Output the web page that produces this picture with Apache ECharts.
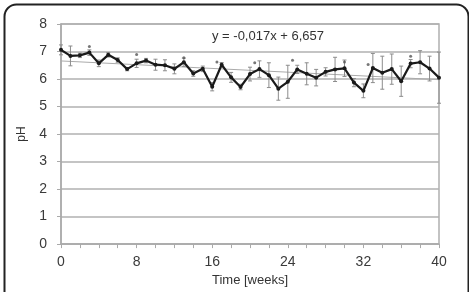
<!DOCTYPE html>
<html><head><meta charset="utf-8">
<script src="https://cdn.jsdelivr.net/npm/echarts@6/dist/echarts.min.js"></script>
<style>html,body{margin:0;padding:0;background:#fff}#c{width:469px;height:292px}</style>
</head><body><div id="c"></div>
<script>
const weeks = [0,1,2,3,4,5,6,7,8,9,10,11,12,13,14,15,16,17,18,19,20,21,22,23,24,25,26,27,28,29,30,31,32,33,34,35,36,37,38,39,40];
const phMean = [7.06,6.84,6.86,6.96,6.57,6.88,6.69,6.36,6.57,6.67,6.52,6.50,6.37,6.61,6.20,6.37,5.72,6.52,6.06,5.71,6.18,6.36,6.14,5.65,5.90,6.35,6.19,6.05,6.26,6.35,6.39,5.87,5.57,6.40,6.23,6.36,5.92,6.56,6.61,6.38,6.05];
const phErr = [0.18,0.36,0.08,0.1,0.12,0.08,0.08,0.06,0.15,0.08,0.2,0.2,0.18,0.15,0.1,0.1,0.15,0.08,0.18,0.1,0.25,0.3,0.45,0.42,0.6,0.15,0.4,0.3,0.15,0.44,0.3,0.15,0.25,0.53,0.6,0.55,0.55,0.15,0.42,0.45,0.93];
const starX = [3,8,13,16.5,20.5,24.5,30,32.5,37];
const starY = [7.18,6.89,6.77,6.62,6.59,6.68,6.62,6.53,6.83];
const trendX = [0,40];
const trendSlope = -0.017, trendIntercept = 6.657;
const xTicks = [0,8,16,24,32,40];
const yTicks = [0,1,2,3,4,5,6,7,8];

const chart = echarts.init(document.getElementById('c'), null, {renderer:'canvas'});
const ff = '"Liberation Sans", Arial, sans-serif';
chart.setOption({
  animation:false,
  grid:{left:61,right:30,top:24,bottom:40,show:true,borderColor:'#b0b0b0',borderWidth:1.5},
  graphic:[
    {type:'rect',left:2,top:2,shape:{width:464,height:320,r:12},style:{fill:'none',stroke:'#222',lineWidth:2},z:100},
    {type:'text',x:268,y:30,style:{text:'y = -0,017x + 6,657',font:'13px '+ff,fill:'#333',textAlign:'center'}}
  ],
  xAxis:{type:'value',min:0,max:40,interval:8,name:'Time [weeks]',nameLocation:'middle',nameGap:28,
    nameTextStyle:{fontFamily:ff,fontSize:13,color:'#333'},
    axisLine:{lineStyle:{color:'#aaa',width:1.5}},
    axisTick:{show:true,length:4,lineStyle:{color:'#aaa'}},
    minorTick:{show:true,splitNumber:4,length:4,lineStyle:{color:'#aaa'}},
    splitLine:{show:false},
    axisLabel:{margin:11,fontFamily:ff,fontSize:14,color:'#3a3a3a'}},
  yAxis:{type:'value',min:0,max:8,interval:1,name:'pH',nameLocation:'middle',nameGap:33,
    nameTextStyle:{fontFamily:ff,fontSize:12,color:'#333'},
    axisLine:{show:true,lineStyle:{color:'#aaa',width:1.5}},
    axisTick:{show:true,length:4,lineStyle:{color:'#aaa'}},
    splitLine:{show:true,lineStyle:{color:'#b0b0b0',width:1.5}},
    axisLabel:{margin:14,fontFamily:ff,fontSize:14,color:'#3a3a3a'}},
  series:[
    {type:'line',data:trendX.map(x=>[x,trendIntercept+trendSlope*x]),symbol:'none',
      lineStyle:{color:'#aaa',width:1},z:1},
    {type:'custom',z:2,data:weeks.map((w,i)=>[w,phMean[i]-phErr[i],phMean[i]+phErr[i]]),
      renderItem:function(params,api){
        const lo=api.coord([api.value(0),api.value(1)]);
        const hi=api.coord([api.value(0),api.value(2)]);
        const st={stroke:'#8c8c8c',lineWidth:1};
        return {type:'group',children:[
          {type:'line',shape:{x1:lo[0],y1:lo[1],x2:hi[0],y2:hi[1]},style:st},
          {type:'line',shape:{x1:lo[0]-2,y1:lo[1],x2:lo[0]+2,y2:lo[1]},style:st},
          {type:'line',shape:{x1:hi[0]-2,y1:hi[1],x2:hi[0]+2,y2:hi[1]},style:st}
        ]};
      }},
    {type:'line',z:3,data:weeks.map((w,i)=>[w,phMean[i]]),symbol:'circle',symbolSize:4,
      itemStyle:{color:'#1a1a1a'},lineStyle:{color:'#1a1a1a',width:2.2}},
    {type:'scatter',z:3,data:starX.map((x,i)=>[x,starY[i]]),symbol:'circle',symbolSize:3,
      itemStyle:{color:'#555'}}
  ]
});
</script></body></html>
